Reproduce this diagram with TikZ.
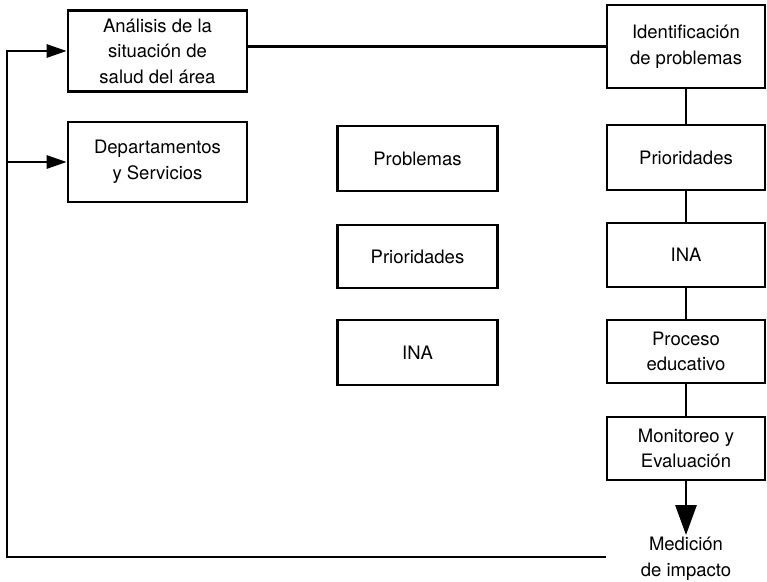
\documentclass[tikz,border=0pt]{standalone}
\usepackage{fontspec}
\setmainfont{TeX Gyre Heros}
\usetikzlibrary{arrows.meta}

\begin{document}
\begin{tikzpicture}[x=1pt,y=-1pt,
  caja/.style={draw,line width=2.6pt,align=center,inner sep=0pt,
    minimum width=158pt,font=\fontsize{18.5}{25.5}\selectfont},
  texto/.style={align=center,inner sep=2pt,font=\fontsize{18.5}{26}\selectfont},
  linea/.style={line width=2.8pt},
  flecha/.style={line width=2.8pt,-{Triangle[length=20pt,width=13pt]}},
  flechagrande/.style={line width=2.8pt,-{Triangle[length=30pt,width=21pt]}}]
\useasboundingbox (0,0) rectangle (767,581);

% left column
\node[caja,minimum width=179pt,minimum height=81pt] (ana) at (157.5,51) {Análisis de la\\situación de\\salud del área};
\node[caja,minimum width=179pt,minimum height=80pt] (dep) at (157.5,162) {Departamentos\\y Servicios};

% middle column
\node[caja,minimum width=160pt,minimum height=65pt] (prob2) at (417.5,158.5) {Problemas};
\node[caja,minimum width=160pt,minimum height=63pt] (prio2) at (417.5,256.5) {Prioridades};
\node[caja,minimum width=160pt,minimum height=65pt] (ina2) at (417.5,352.5) {INA};

% right column
\node[caja,minimum height=83pt] (iden) at (686,46.5) {Identificación\\de problemas};
\node[caja,minimum height=65pt] (prio) at (686,157.5) {Prioridades};
\node[caja,minimum height=64pt] (ina) at (686,255) {INA};
\node[caja,minimum height=63pt] (proc) at (686,351.5) {Proceso\\educativo};
\node[caja,minimum height=63pt] (mon) at (686,448.5) {Monitoreo y\\Evaluación};
\node[texto] (med) at (686,559) {Medición\\de impacto};

\coordinate (esq) at (7,557);

\draw[linea] (ana.east |- iden) -- (iden.west);
\draw[linea] (iden) -- (prio);
\draw[linea] (prio) -- (ina);
\draw[linea] (ina) -- (proc);
\draw[linea] (proc) -- (mon);
\draw[flechagrande] (mon.south) -- (med.north);

% feedback
\draw[flecha] (mon.west |- esq) -- (esq) |- (ana.west);
\draw[flecha] (esq |- dep.west) -- (dep.west);
\end{tikzpicture}
\end{document}
